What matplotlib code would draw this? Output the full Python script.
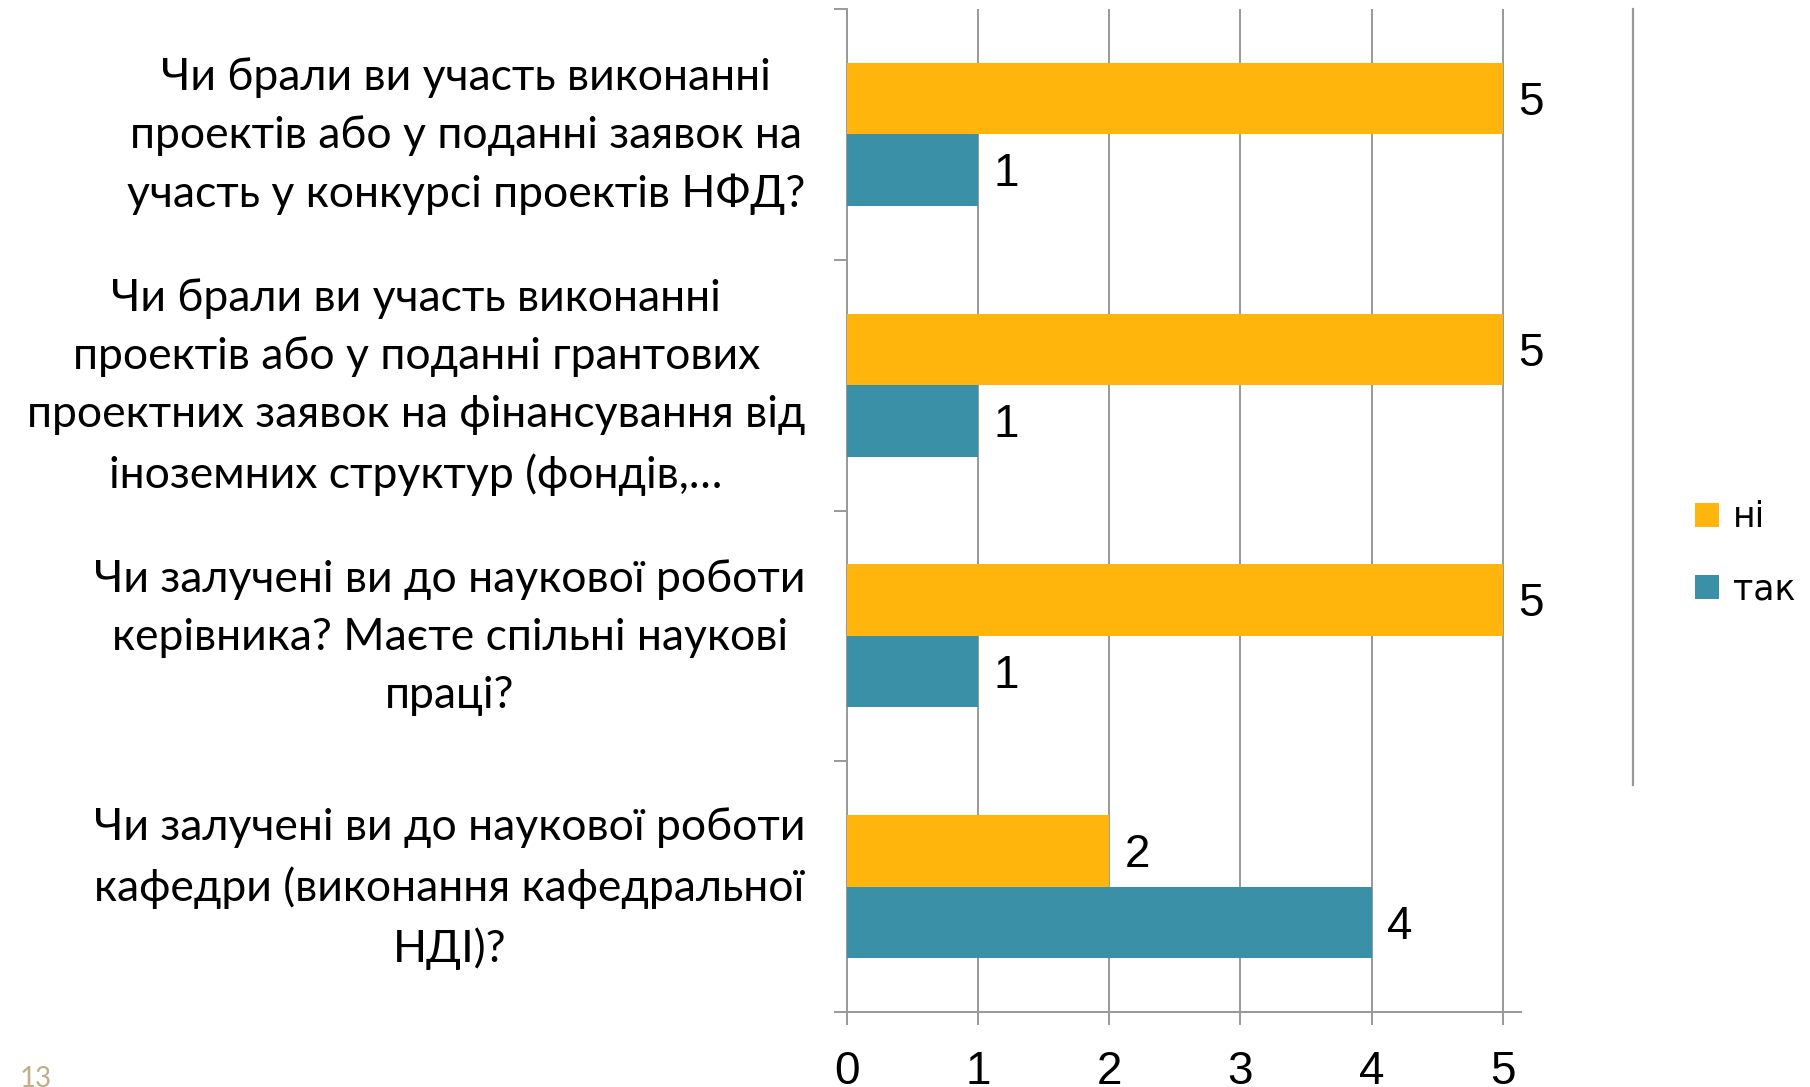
import numpy as np
import matplotlib.pyplot as plt
from matplotlib.lines import Line2D

# questions, top to bottom
questions = [
    "Чи брали ви участь виконанні\nпроектів або у поданні заявок на\nучасть у конкурсі проектів НФД?",
    "Чи брали ви участь виконанні\nпроектів або у поданні грантових\nпроектних заявок на фінансування від\nіноземних структур (фондів,…",
    "Чи залучені ви до наукової роботи\nкерівника? Маєте спільні наукові\nпраці?",
    "Чи залучені ви до наукової роботи\nкафедри (виконання кафедральної\nНДІ)?",
]
ni = [5, 5, 5, 2]
tak = [1, 1, 1, 4]
xticks = [0, 1, 2, 3, 4, 5]

c_ni = "#FFB50B"
c_tak = "#3A90A7"
grey = "#999999"

fig = plt.figure(figsize=(18.1, 10.87), dpi=100)
ax = fig.add_axes([847 / 1810, 1 - 1012 / 1087, (1521 - 847) / 1810, 1003 / 1087])

n = len(questions)
y = np.arange(n)[::-1]
h = 0.285
b_ni = ax.barh(y + h / 2, ni, height=h, color=c_ni, label="ні", zorder=3)
b_tak = ax.barh(y - h / 2, tak, height=h, color=c_tak, label="так", zorder=3)

for bars in (b_ni, b_tak):
    for t in ax.bar_label(bars, padding=11, fontsize=33, family="Liberation Sans"):
        t.xyann = (11, -3)

ax.set_xlim(0, 5.14)
ax.set_ylim(-0.5, n - 0.5)

ax.set_xticks(xticks)
ax.set_xticklabels([str(t) for t in xticks], fontsize=33, family="Liberation Sans")
ax.tick_params(axis="x", length=9.4, width=1.4, color=grey, pad=18)

# labels sit a little above the group centre (invisible major ticks)
ax.set_yticks(y + 0.045)
ax.set_yticklabels(questions, fontsize=32, family="Lato", linespacing=1.52)
for lbl in ax.get_yticklabels():
    lbl.set_multialignment("center")
ax.tick_params(axis="y", which="major", length=0, pad=30)
ax.set_yticks(np.arange(n + 1) - 0.5, minor=True)
ax.tick_params(axis="y", which="minor", length=9.4, width=1.4, color=grey)

ax.grid(axis="x", color=grey, linewidth=1.4, zorder=0)
for s in ("top", "right"):
    ax.spines[s].set_visible(False)
for s in ("left", "bottom"):
    ax.spines[s].set_color(grey)
    ax.spines[s].set_linewidth(1.4)

fig.legend(handles=[b_ni, b_tak], loc="center left", bbox_to_anchor=(1695 / 1810, 1 - 553 / 1087),
           frameon=False, prop={"family": "DejaVu Sans", "size": 25},
           borderpad=0, borderaxespad=0,
           handlelength=0.7, handleheight=0.7, handletextpad=0.38, labelspacing=1.1)

fig.add_artist(Line2D([1633 / 1810, 1633 / 1810], [1 - 9 / 1087, 1 - 785 / 1087],
                      color=grey, linewidth=1.6))
fig.text(20 / 1810, 1 - 1066 / 1087, "13", color="#BFAE88", fontsize=20, family="Lato", va="top")

fig.savefig("out.png", dpi=100)
